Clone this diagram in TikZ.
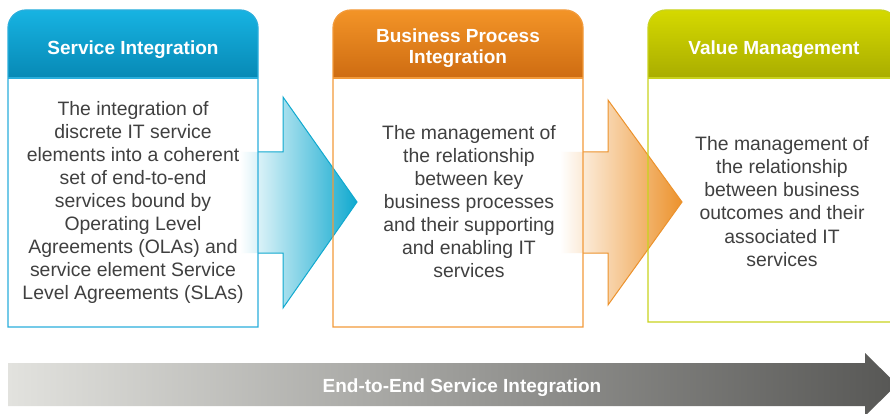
\documentclass[tikz,border=0pt]{standalone}
\usepackage{fontspec}
\setmainfont{Liberation Sans}
\definecolor{siTop}{HTML}{17B3E2}
\definecolor{siBot}{HTML}{0789B5}
\definecolor{siLine}{HTML}{2AAEDC}
\definecolor{siArrow}{HTML}{10A9CF}
\definecolor{bpTop}{HTML}{F39427}
\definecolor{bpBot}{HTML}{CE6C12}
\definecolor{bpLine}{HTML}{F29A3A}
\definecolor{bpArrow}{HTML}{EC922C}
\definecolor{vmTop}{HTML}{D5D900}
\definecolor{vmBot}{HTML}{A9AD00}
\definecolor{vmLine}{HTML}{C9D31E}
\definecolor{txtGray}{HTML}{404040}
\definecolor{flowLight}{HTML}{E2E2DE}
\definecolor{flowDark}{HTML}{575755}
\tikzset{
  hdrtext/.style={text=white, font=\fontsize{19}{21}\selectfont\bfseries, align=center},
  bodytext/.style={text=txtGray, font=\fontsize{19.4}{23.1}\selectfont, align=center},
}
% box fill and header: left x, bottom y, top colour, bottom colour
\def\stagebox(#1,#2,#3,#4){
  \fill[white] (#1,78) rectangle (#1+250,#2);
  \shade[top color=#3, bottom color=#4] (#1,78) [rounded corners=18pt] -- (#1,10) -- (#1+250,10) [sharp corners] -- (#1+250,78) -- cycle;
}
% box outline: left x, bottom y, colour
\def\stageframe(#1,#2,#3){
  \draw[#3, line width=1.3pt] (#1,#2) [rounded corners=18pt] -- (#1,10) -- (#1+250,10) [sharp corners] -- (#1+250,#2) -- cycle;
  \draw[#3, line width=1.3pt] (#1,78) -- (#1+250,78);
}
% arrow between boxes: start x, box edge x, head x, tip x, head top y, head bottom y, colour
\def\stagearrow(#1,#2,#3,#4,#5,#6,#7){
  \shade[left color=white, middle color=#7!40, right color=#7] (#1,152) -- (#3,152) -- (#3,#5) -- (#4,202) -- (#3,#6) -- (#3,253) -- (#1,253) -- cycle;
  \draw[#7, line width=1pt] (#2,152) -- (#3,152) -- (#3,#5) -- (#4,202) -- (#3,#6) -- (#3,253) -- (#2,253);
}

\begin{document}
\begin{tikzpicture}[x=1pt, y=-1pt]
\useasboundingbox (0,0) rectangle (890,414);
\stagebox(8,327,siTop,siBot)
\stagebox(333,327,bpTop,bpBot)
\stagebox(648,322,vmTop,vmBot)
\stagearrow(240,258,283,357,97,308,siArrow)
\stagearrow(560,583,608,682,100,305,bpArrow)
\stageframe(8,327,siLine)
\stageframe(333,327,bpLine)
\stageframe(648,322,vmLine)
\node[hdrtext] (si_hdr) at (133,50) {Service Integration};
\node[hdrtext] (bp_hdr) at (458,48) {Business Process\\Integration};
\node[hdrtext] (vm_hdr) at (774,50) {Value Management};
\node[bodytext] (si_txt) at (133,202.5) {The integration of\\discrete IT service\\elements into a coherent\\set of end-to-end\\services bound by\\Operating Level\\Agreements (OLAs) and\\service element Service\\Level Agreements (SLAs)};
\node[bodytext] (bp_txt) at (469,201.5) {The management of\\the relationship\\between key\\business processes\\and their supporting\\and enabling IT\\services};
\node[bodytext] (vm_txt) at (782,201.5) {The management of\\the relationship\\between business\\outcomes and their\\associated IT\\services};
% end-to-end flow
\shade[left color=flowLight, right color=flowDark] (8,363) -- (865,363) -- (865,353) -- (897,384.5) -- (865,416) -- (865,406) -- (8,406) -- cycle;
\node[hdrtext] (e2e) at (462,388) {End-to-End Service Integration};
\end{tikzpicture}
\end{document}
